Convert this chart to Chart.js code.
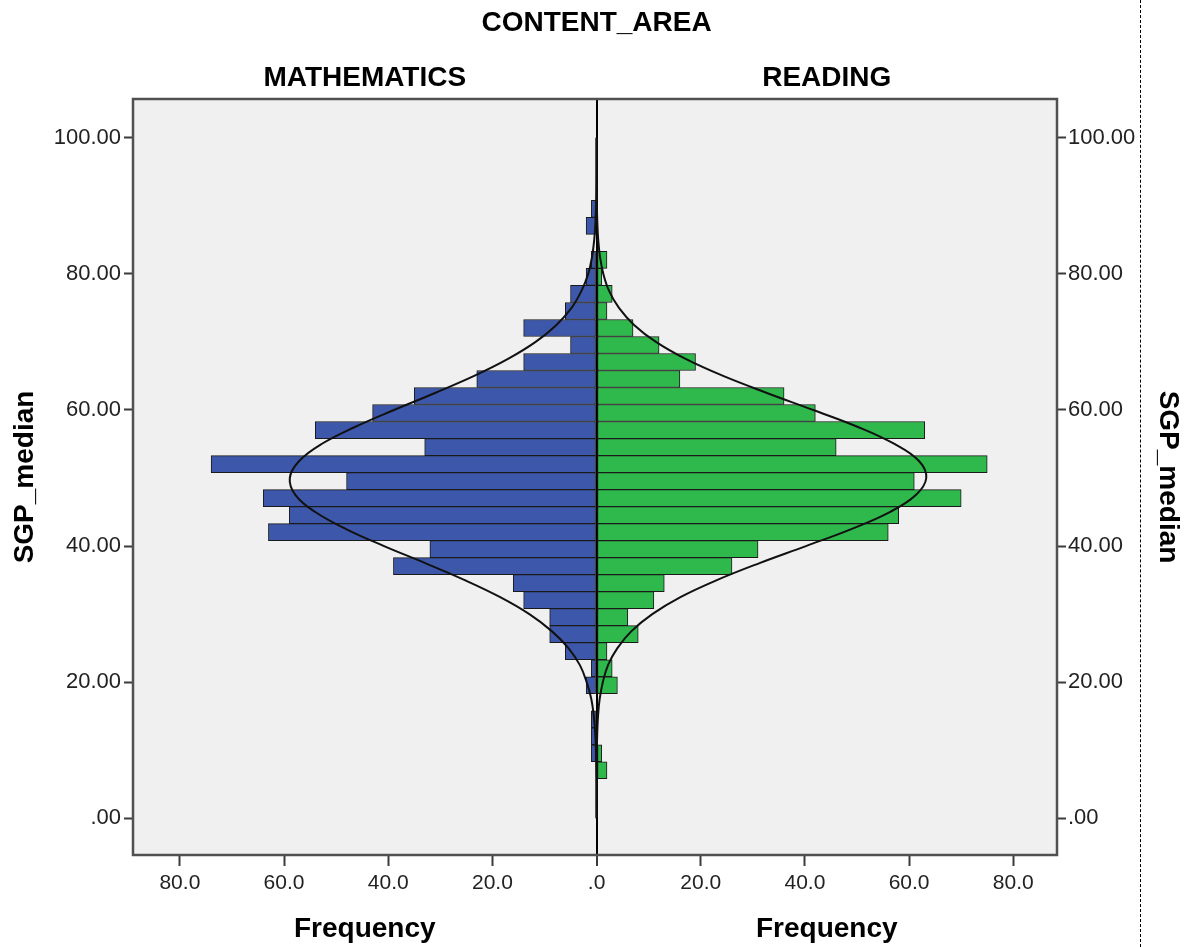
<!DOCTYPE html>
<html><head><meta charset="utf-8">
<script src="https://cdn.jsdelivr.net/npm/chart.js@4"></script>
<style>
html,body{margin:0;padding:0;background:#fff;}
#wrap{position:relative;width:1192px;height:947px;}
#dash{position:absolute;left:1140px;top:0;height:947px;border-left:1px dashed #000;}
</style></head><body>
<div id="wrap"><canvas id="c" width="1192" height="947"></canvas><div id="dash"></div></div>
<script>
// ---- data ----
const binCenters = [7.05, 9.55, 12.05, 14.55, 17.05, 19.55, 22.05, 24.55, 27.05, 29.55,
  32.05, 34.55, 37.05, 39.55, 42.05, 44.55, 47.05, 49.55, 52.05, 54.55,
  57.05, 59.55, 62.05, 64.55, 67.05, 69.55, 72.05, 74.55, 77.05, 79.55,
  82.05, 84.55, 87.05, 89.55];
const mathFreq = [0, 1, 1, 1, 0, 2, 1, 6, 9, 9,
  14, 16, 39, 32, 63, 59, 64, 48, 74, 33,
  54, 43, 35, 23, 14, 5, 14, 6, 5, 2,
  1, 0, 2, 1];
const readingFreq = [2, 1, 0, 0, 0, 4, 3, 2, 8, 6,
  11, 13, 26, 31, 56, 58, 70, 61, 75, 46,
  63, 42, 36, 16, 19, 12, 7, 2, 3, 1,
  2, 0, 0, 0];
const curveY = [0, 2.5, 5, 7.5, 10, 12.5, 15, 17.5, 20, 22.5, 25, 27.5, 30, 32.5, 35, 37.5, 40, 42.5, 45, 47.5,
  50, 52.5, 55, 57.5, 60, 62.5, 65, 67.5, 70, 72.5, 75, 77.5, 80, 82.5, 85, 87.5, 90, 92.5, 95, 97.5, 100];
const mathCurve = [0, 0.01, 0.02, 0.06, 0.12, 0.26, 0.53, 1.0, 1.9, 3.2, 5.4, 8.6, 12.9, 18.5, 25.3, 32.9, 40.8, 48.1, 54.0, 57.8,
  58.9, 57.1, 52.8, 46.4, 38.9, 31.0, 23.5, 17.0, 11.7, 7.7, 4.8, 2.9, 1.6, 0.87, 0.45, 0.22, 0.10, 0.05, 0.02, 0.01, 0];
const readingCurve = [0, 0, 0.01, 0.02, 0.06, 0.13, 0.28, 0.59, 1.2, 2.2, 4.0, 6.7, 10.7, 16.1, 23.1, 31.3, 40.2, 48.9, 56.3, 61.3,
  63.3, 61.9, 57.2, 50.2, 41.6, 32.7, 24.3, 17.1, 11.4, 7.2, 4.3, 2.4, 1.3, 0.66, 0.32, 0.15, 0.06, 0.03, 0.01, 0, 0];
const yTickValues = [0, 20, 40, 60, 80, 100];
const xTickValues = [-80, -60, -40, -20, 0, 20, 40, 60, 80];
const panelTitles = ['MATHEMATICS', 'READING'];
const mainTitle = 'CONTENT_AREA';
const xAxisTitle = 'Frequency';
const yAxisTitle = 'SGP_median';

// ---- styling ----
const FONT = "'Liberation Sans', Arial, sans-serif";
const BLUE = '#3d58aa';
const GREEN = '#2fb84b';

const mathBars = binCenters.map((c, i) => ({ y: c, x: mathFreq[i] ? -mathFreq[i] : null }));
const readBars = binCenters.map((c, i) => ({ y: c, x: readingFreq[i] ? readingFreq[i] : null }));
const mathLine = curveY.map((y, i) => ({ y: y, x: -mathCurve[i] }));
const readLine = curveY.map((y, i) => ({ y: y, x: readingCurve[i] }));

const fmtY = v => { let s = Number(v).toFixed(2); return s.startsWith('0.') ? s.slice(1) : s; };
const fmtX = v => { let s = Math.abs(Number(v)).toFixed(1); return s.startsWith('0.') ? s.slice(1) : s; };

const framePlugin = {
  id: 'frame',
  beforeDraw(chart) {
    const { ctx, chartArea: a } = chart;
    ctx.save();
    ctx.fillStyle = '#fff';
    ctx.fillRect(0, 0, chart.width, chart.height);
    ctx.fillStyle = '#f0f0f0';
    ctx.fillRect(a.left, a.top, a.right - a.left, a.bottom - a.top);
    ctx.restore();
  },
  afterDraw(chart) {
    const { ctx, chartArea: a } = chart;
    const xs = chart.scales.x;
    const zero = xs.getPixelForValue(0);
    ctx.save();
    ctx.strokeStyle = '#505050';
    ctx.lineWidth = 2.5;
    ctx.strokeRect(a.left, a.top, a.right - a.left, a.bottom - a.top);
    ctx.fillStyle = '#000';
    ctx.textAlign = 'center';
    ctx.textBaseline = 'alphabetic';
    ctx.font = "bold 28px " + FONT;
    ctx.fillText(mainTitle, zero, a.top - 68);
    ctx.fillText(panelTitles[0], (a.left + zero) / 2, a.top - 13);
    ctx.fillText(panelTitles[1], (zero + a.right) / 2, a.top - 13);
    ctx.fillText(xAxisTitle, (a.left + zero) / 2, a.bottom + 82);
    ctx.fillText(xAxisTitle, (zero + a.right) / 2, a.bottom + 82);
    ctx.restore();
  }
};

const yScaleBase = {
  type: 'linear', min: -5.4, max: 105.7, offset: false,
  afterBuildTicks: s => { s.ticks = yTickValues.map(v => ({ value: v })); },
  grid: { offset: false, drawOnChartArea: false, tickLength: 9, tickWidth: 2, tickColor: '#3a3a3a' },
  border: { display: false },
  title: { display: true, text: yAxisTitle, color: '#000', font: { family: FONT, size: 28, weight: 'bold' } },
};

new Chart(document.getElementById('c'), {
  type: 'bar',
  data: {
    datasets: [
      { type: 'line', data: mathLine, borderColor: '#111', borderWidth: 2, pointRadius: 0, tension: 0.4, fill: false, order: 0, xAxisID: 'x', yAxisID: 'y' },
      { type: 'line', data: readLine, borderColor: '#111', borderWidth: 2, pointRadius: 0, tension: 0.4, fill: false, order: 0, xAxisID: 'x', yAxisID: 'y' },
      { data: mathBars, backgroundColor: BLUE, borderColor: '#1a1a1a', borderWidth: 1, borderSkipped: false, grouped: false, barPercentage: 1, categoryPercentage: 1, order: 1, xAxisID: 'x', yAxisID: 'y' },
      { data: readBars, backgroundColor: GREEN, borderColor: '#1a1a1a', borderWidth: 1, borderSkipped: false, grouped: false, barPercentage: 1, categoryPercentage: 1, order: 1, xAxisID: 'x', yAxisID: 'y' },
    ]
  },
  options: {
    indexAxis: 'y',
    responsive: false,
    animation: false,
    devicePixelRatio: 1,
    layout: { padding: { top: 99, left: 0, right: 0, bottom: 0 } },
    plugins: { legend: { display: false }, tooltip: { enabled: false }, title: { display: false } },
    scales: {
      x: {
        type: 'linear', position: 'bottom', min: -89, max: 88.4, offset: false,
        afterBuildTicks: s => { s.ticks = xTickValues.map(v => ({ value: v })); },
        afterFit: s => { s.height = 92; },
        grid: {
          offset: false,
          color: c => (c.tick && c.tick.value === 0) ? '#000' : 'rgba(0,0,0,0)',
          lineWidth: c => (c.tick && c.tick.value === 0) ? 2 : 1,
          tickColor: '#3a3a3a', tickWidth: 2, tickLength: 11,
        },
        border: { display: false },
        ticks: { callback: v => fmtX(v), color: '#222', padding: 5, font: { family: FONT, size: 21 } },
      },
      y: Object.assign({}, yScaleBase, {
        position: 'left',
        afterFit: s => { s.width = 133; },
        ticks: { callback: v => fmtY(v), color: '#222', padding: 3, font: { family: FONT, size: 22 } },
        title: Object.assign({}, yScaleBase.title, { padding: { top: 8, bottom: 0 } }),
      }),
      y2: Object.assign({}, yScaleBase, {
        position: 'right',
        afterFit: s => { s.width = 135; },
        ticks: { callback: v => fmtY(v), color: '#222', padding: 2, font: { family: FONT, size: 22 } },
        title: Object.assign({}, yScaleBase.title, { padding: { top: 7, bottom: 0 } }),
      }),
    }
  },
  plugins: [framePlugin]
});
</script>
</body></html>
